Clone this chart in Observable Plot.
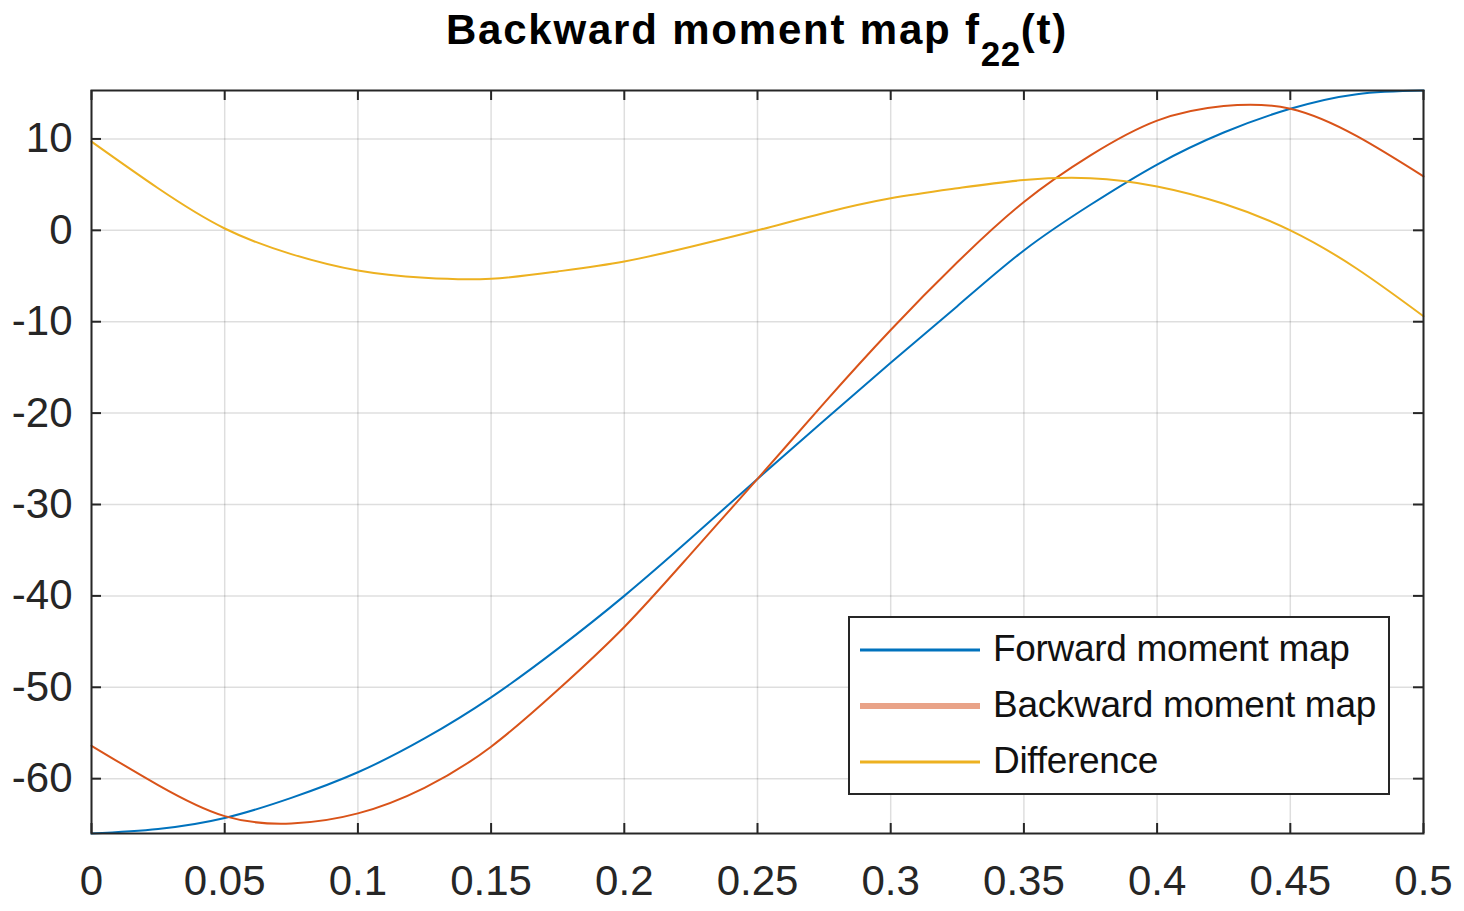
<!DOCTYPE html>
<html>
<head>
<meta charset="utf-8">
<script src="https://cdn.jsdelivr.net/npm/d3@7"></script>
<script src="https://cdn.jsdelivr.net/npm/@observablehq/plot@0.6"></script>
<style>
  body { margin: 0; background: #fff; font-family: "Liberation Sans", Arial, sans-serif; }
  #wrap { position: relative; width: 1464px; height: 911px; overflow: hidden; background: #fff; }
  #title { position: absolute; left: 91px; width: 1332px; top: 6px; text-align: center; font-weight: bold;
           font-size: 42px; color: #000; letter-spacing: 1.8px; white-space: nowrap; line-height: normal; }
  #title sub { font-size: 35px; vertical-align: -22px; line-height: 0; letter-spacing: 0.5px; }
  #chart { position: absolute; left: 0; top: 80px; }
  #legend { position: absolute; left: 848px; top: 616px; width: 542px; height: 179px; box-sizing: border-box;
            border: 2px solid #262626; background: #fff; }
  .row { position: absolute; left: 0; height: 56px; width: 100%; }
  .row svg { position: absolute; left: 10px; top: 0; }
  .row span { position: absolute; left: 143px; top: 50%; transform: translateY(-52%); font-size: 37px;
              color: #111; letter-spacing: -0.3px; white-space: nowrap; }
</style>
</head>
<body>
<div id="wrap">
  <div id="title">Backward moment map f<sub>22</sub>(t)</div>
  <div id="chart"></div>
  <div id="legend"></div>
</div>
<script>
// ---- data ----
const t = [0, 0.025, 0.05, 0.075, 0.1, 0.125, 0.15, 0.175, 0.2, 0.225, 0.25,
           0.275, 0.3, 0.325, 0.35, 0.375, 0.4, 0.425, 0.45, 0.475, 0.5];
const forward = [-66.0, -65.5, -64.3, -62.1, -59.3, -55.6, -51.1, -45.8, -40.0, -33.7, -27.2,
                 -20.8, -14.5, -8.3, -2.2, 2.8, 7.2, 10.7, 13.3, 14.9, 15.3];
const backward = [-56.4, -60.7, -64.1, -64.9, -63.8, -61.0, -56.5, -50.3, -43.4, -35.4, -27.2,
                  -18.9, -10.9, -3.5, 3.1, 8.2, 12.0, 13.6, 13.3, 10.3, 5.9];
const difference = [9.7, 4.6, 0.2, -2.6, -4.4, -5.2, -5.3, -4.5, -3.4, -1.8, 0.0,
                    1.9, 3.5, 4.6, 5.5, 5.7, 4.8, 2.9, 0.0, -4.2, -9.4];
const seriesNames = ["Forward moment map", "Backward moment map", "Difference"];
const seriesColors = ["#0072BD", "#D95319", "#EDB120"];
const xTicks = [0, 0.05, 0.1, 0.15, 0.2, 0.25, 0.3, 0.35, 0.4, 0.45, 0.5];
const yTicks = [-60, -50, -40, -30, -20, -10, 0, 10];
const xDomain = [0, 0.5];
const yDomain = [-66, 15.3];

const seriesValues = [forward, backward, difference];
const rows = seriesNames.flatMap((name, i) => t.map((tt, j) => ({t: tt, v: seriesValues[i][j], s: name})));

const W = 1464, H = 831, mL = 91, mR = 41, mT = 10, mB = 78;
const innerW = W - mL - mR, innerH = H - mT - mB;
const axisColor = "#262626";

const chart = Plot.plot({
  width: W, height: H,
  marginLeft: mL, marginRight: mR, marginTop: mT, marginBottom: mB,
  style: {fontFamily: "'Liberation Sans', Arial, sans-serif", fontSize: "42px", color: axisColor, background: "#fff", overflow: "visible"},
  x: {domain: xDomain},
  y: {domain: yDomain},
  color: {domain: seriesNames, range: seriesColors},
  marks: [
    Plot.gridX(xTicks, {stroke: "#000", strokeOpacity: 0.13, strokeWidth: 1.5}),
    Plot.gridY(yTicks, {stroke: "#000", strokeOpacity: 0.13, strokeWidth: 1.5}),
    Plot.line(rows, {x: "t", y: "v", z: "s", stroke: "s", strokeWidth: 2, curve: "natural"}),
    Plot.ruleX(xTicks, {x: d => d, insetTop: innerH - 10, stroke: axisColor, strokeWidth: 2}),
    Plot.ruleX(xTicks, {x: d => d, insetBottom: innerH - 10, stroke: axisColor, strokeWidth: 2}),
    Plot.ruleY(yTicks, {y: d => d, insetRight: innerW - 10, stroke: axisColor, strokeWidth: 2}),
    Plot.ruleY(yTicks, {y: d => d, insetLeft: innerW - 10, stroke: axisColor, strokeWidth: 2}),
    Plot.axisX(xTicks, {tickSize: 0, tickPadding: 32, tickFormat: d => String(d), label: null, fill: axisColor}),
    Plot.axisY(yTicks, {tickSize: 0, tickPadding: 19, tickFormat: d => String(d), label: null, fill: axisColor}),
    Plot.frame({stroke: axisColor, strokeWidth: 2})
  ]
});
document.getElementById("chart").appendChild(chart);

// legend
const legend = document.getElementById("legend");
const swatchStyles = [{c: "#0072BD", w: 3}, {c: "#E9A388", w: 6}, {c: "#EDB120", w: 3}];
const rowTops = [4, 60, 116];
seriesNames.forEach((name, i) => {
  const row = document.createElement("div");
  row.className = "row";
  row.style.top = rowTops[i] + "px";
  row.innerHTML = `<svg width="120" height="56"><line x1="0" x2="120" y1="28" y2="28" stroke="${swatchStyles[i].c}" stroke-width="${swatchStyles[i].w}"/></svg><span>${name}</span>`;
  legend.appendChild(row);
});
</script>
</body>
</html>
